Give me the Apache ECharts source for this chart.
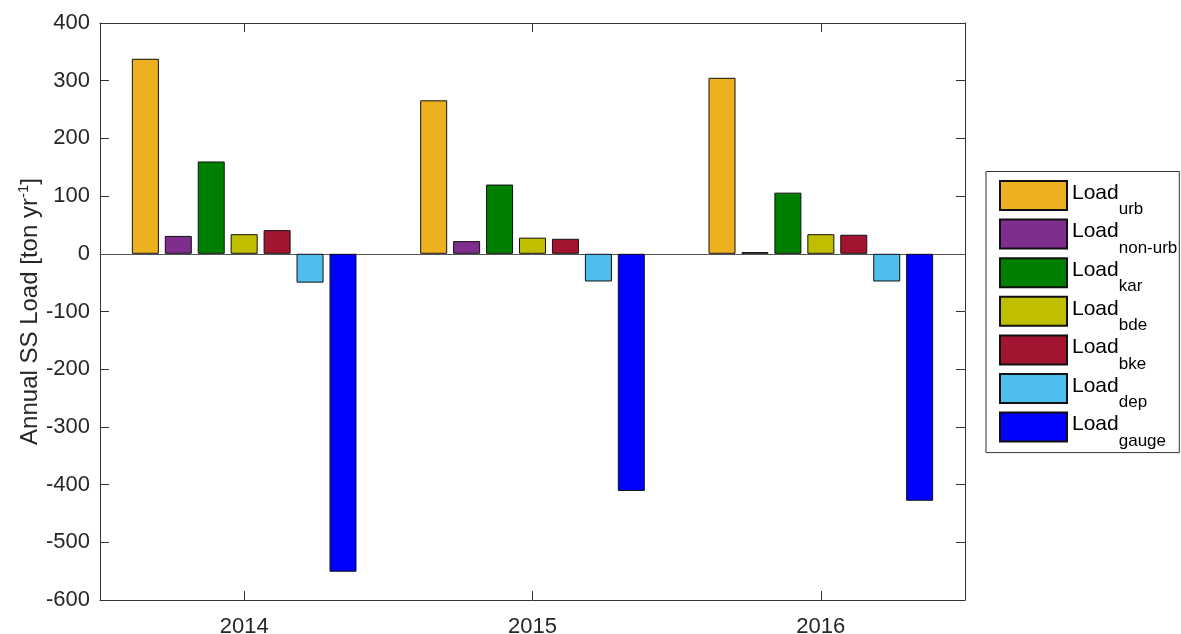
<!DOCTYPE html>
<html>
<head>
<meta charset="utf-8">
<script src="https://cdn.jsdelivr.net/npm/echarts@6/dist/echarts.min.js"></script>
<style>
html,body{margin:0;padding:0;background:#fff;}
#chart{width:1181px;height:634px;}
</style>
</head>
<body>
<div id="chart"></div>
<script>
const years = ['2014', '2015', '2016'];
const seriesNames = ['urb', 'non-urb', 'kar', 'bde', 'bke', 'dep', 'gauge'];
const seriesColors = ['#EDB120', '#7E2F8E', '#008000', '#BFBF00', '#A2142F', '#4DBEEE', '#0000FF'];
const loadUrb = [338, 266, 305];
const loadNonUrb = [31, 22, 3];
const loadKar = [160, 120, 106];
const loadBde = [34, 28, 34];
const loadBke = [41, 26, 33];
const loadDep = [-50, -48, -48];
const loadGauge = [-551, -411, -428];
const yTicks = { min: -600, max: 400, interval: 100 };

const seriesValues = [loadUrb, loadNonUrb, loadKar, loadBde, loadBke, loadDep, loadGauge];
const FONT = '"Liberation Sans", Arial, Helvetica, sans-serif';
const AXC = '#333333';

const chart = echarts.init(document.getElementById('chart'));

const series = seriesNames.map((n, i) => ({
  name: 'Load_' + n,
  type: 'bar',
  xAxisIndex: 0,
  yAxisIndex: 0,
  data: seriesValues[i],
  barWidth: 27,
  barGap: '22%',
  itemStyle: { color: seriesColors[i], borderColor: '#111', borderWidth: 1 },
  emphasis: { disabled: true },
  animation: false
}));

const baseY = {
  type: 'value',
  min: yTicks.min,
  max: yTicks.max,
  interval: yTicks.interval,
  splitLine: { show: false },
  axisLine: { show: true, onZero: false, lineStyle: { color: AXC, width: 1 } },
  axisTick: { show: true, inside: true, length: 9, lineStyle: { color: AXC } }
};

const baseX = {
  type: 'category',
  data: years,
  boundaryGap: true,
  splitLine: { show: false },
  axisLine: { show: true, onZero: false, lineStyle: { color: AXC, width: 1 } },
  axisTick: { show: true, inside: true, alignWithLabel: true, length: 9, lineStyle: { color: AXC } }
};

chart.setOption({
  backgroundColor: '#ffffff',
  animation: false,
  textStyle: { fontFamily: FONT },
  grid: { left: 100, right: 216, top: 23, bottom: 34, containLabel: false, outerBoundsMode: 'none' },
  xAxis: [
    Object.assign({}, baseX, {
      position: 'bottom',
      axisLabel: { show: true, color: '#262626', fontSize: 22, fontFamily: FONT, margin: 16 }
    }),
    Object.assign({}, baseX, {
      position: 'top',
      axisLabel: { show: false }
    }),
    {
      type: 'category',
      data: years,
      position: 'bottom',
      axisLine: { show: true, onZero: true, onZeroAxisIndex: 0, lineStyle: { color: '#555', width: 1 } },
      axisTick: { show: false },
      axisLabel: { show: false },
      splitLine: { show: false },
      z: 1
    }
  ],
  yAxis: [
    Object.assign({}, baseY, {
      position: 'left',
      axisLabel: { show: true, color: '#262626', fontSize: 22, fontFamily: FONT, margin: 10 },
      name: '{m|Annual SS Load [ton yr}{p|-1}{m|]}',
      nameLocation: 'middle',
      nameGap: 57,
      nameMoveOverlap: false,
      nameRotate: 90,
      nameTextStyle: {
        color: '#262626',
        fontFamily: FONT,
        rich: {
          m: { fontSize: 24, fontFamily: FONT, color: '#262626', lineHeight: 26 },
          p: { fontSize: 15, fontFamily: FONT, color: '#262626', lineHeight: 1, padding: [0, 0, 12, 0] }
        }
      }
    }),
    Object.assign({}, baseY, {
      position: 'right',
      axisLabel: { show: false }
    })
  ],
  legend: {
    orient: 'vertical',
    left: 986,
    top: 171.5,
    padding: [1.5, 2, 3, 13],
    itemWidth: 67,
    itemHeight: 29,
    itemGap: -6.4,
    icon: 'rect',
    borderColor: '#333',
    borderWidth: 1,
    backgroundColor: '#fff',
    selectedMode: false,
    data: seriesNames.map(n => 'Load_' + n),
    formatter: function (name) {
      return '{m|Load}{s|' + name.split('_')[1] + '}';
    },
    textStyle: {
      fontFamily: FONT,
      color: '#000',
      rich: {
        m: { fontSize: 21, fontFamily: FONT, color: '#000', lineHeight: 24, padding: [0, 0, 5, 0] },
        s: { fontSize: 17, fontFamily: FONT, color: '#000', lineHeight: 1, padding: [28, 0, 0, 0] }
      }
    }
  },
  series: series
});
</script>
</body>
</html>
